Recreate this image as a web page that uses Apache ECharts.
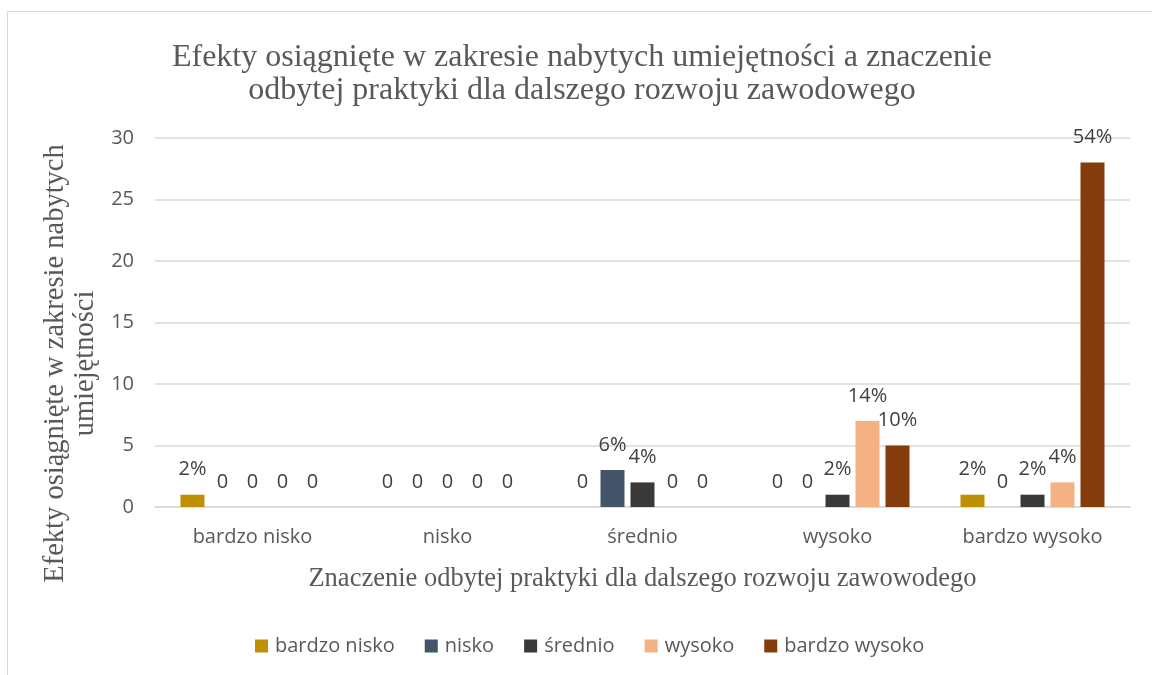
<!DOCTYPE html>
<html><head><meta charset="utf-8">
<script src="https://cdn.jsdelivr.net/npm/echarts@6/dist/echarts.min.js"></script>
<style>html,body{margin:0;padding:0;background:#fff}#c{width:1152px;height:675px}</style>
</head><body><div id="c"></div>
<script>
const categories = ['bardzo nisko', 'nisko', 'średnio', 'wysoko', 'bardzo wysoko'];
const seriesNames = ['bardzo nisko', 'nisko', 'średnio', 'wysoko', 'bardzo wysoko'];
const valsBardzoNisko = [1, 0, 0, 0, 1];
const valsNisko = [0, 0, 3, 0, 0];
const valsSrednio = [0, 0, 2, 1, 1];
const valsWysoko = [0, 0, 0, 7, 2];
const valsBardzoWysoko = [0, 0, 0, 5, 28];
const lblBardzoNisko = ['2%', '0', '0', '0', '2%'];
const lblNisko = ['0', '0', '6%', '0', '0'];
const lblSrednio = ['0', '0', '4%', '2%', '2%'];
const lblWysoko = ['0', '0', '0', '14%', '4%'];
const lblBardzoWysoko = ['0', '0', '0', '10%', '54%'];
const yTicks = [0, 5, 10, 15, 20, 25, 30];

const colors = ['#BF9000', '#44546A', '#3A3838', '#F4B183', '#843C0C'];
const allVals = [valsBardzoNisko, valsNisko, valsSrednio, valsWysoko, valsBardzoWysoko];
const allLbls = [lblBardzoNisko, lblNisko, lblSrednio, lblWysoko, lblBardzoWysoko];
const sans = '"Open Sans", "Noto Sans", sans-serif';
const serif = '"Liberation Serif", "DejaVu Serif", serif';

const chart = echarts.init(document.getElementById('c'), null, {renderer: 'canvas'});
chart.setOption({
  animation: false,
  backgroundColor: '#fff',
  graphic: [{
    type: 'rect', shape: {x: 7.5, y: 11.5, width: 1160, height: 700},
    style: {fill: 'none', stroke: '#D9D9D9', lineWidth: 1}, silent: true, z: -1
  }],
  title: {
    text: 'Efekty osiągnięte w zakresie nabytych umiejętności a znaczenie\nodbytej praktyki dla dalszego rozwoju zawodowego',
    left: 577, top: 36, textAlign: 'center',
    textStyle: {fontFamily: serif, fontSize: 32, fontWeight: 'normal', color: '#595959', lineHeight: 33}
  },
  legend: {
    data: seriesNames, bottom: 14, left: 250,
    itemWidth: 13, itemHeight: 13, itemGap: 30, icon: 'rect',
    textStyle: {fontFamily: sans, fontSize: 20, color: '#595959', padding: [0, 0, 0, 2]}
  },
  grid: {left: 155, right: 22, top: 138, bottom: 168},
  xAxis: {
    type: 'category', data: categories,
    name: 'Znaczenie odbytej praktyki dla dalszego rozwoju zawowodego',
    nameLocation: 'middle', nameGap: 59,
    nameTextStyle: {fontFamily: serif, fontSize: 26.5, color: '#595959'},
    axisLine: {lineStyle: {color: '#D9D9D9', width: 1.5}},
    axisTick: {show: false},
    axisLabel: {fontFamily: sans, fontSize: 20, color: '#595959', margin: 20}
  },
  yAxis: {
    type: 'value', min: yTicks[0], max: yTicks[yTicks.length - 1], interval: 5,
    name: 'Efekty osiągnięte w zakresie nabytych\numiejętności',
    nameLocation: 'middle', nameGap: 52, nameRotate: 90,
    nameTextStyle: {fontFamily: serif, fontSize: 28.5, color: '#595959', lineHeight: 30, padding: [0, 82, 0, 0]},
    axisLine: {show: false}, axisTick: {show: false},
    splitLine: {lineStyle: {color: '#D9D9D9', width: 1.5}},
    axisLabel: {fontFamily: sans, fontSize: 20, color: '#595959', margin: 21}
  },
  series: seriesNames.map((n, i) => ({
    name: n, type: 'bar', data: allVals[i],
    barWidth: 24, barGap: '25%',
    itemStyle: {color: colors[i]},
    label: {
      show: true, position: 'top', distance: 15,
      fontFamily: sans, fontSize: 20, color: '#404040',
      formatter: p => allLbls[i][p.dataIndex]
    }
  }))
});
</script>
</body></html>
